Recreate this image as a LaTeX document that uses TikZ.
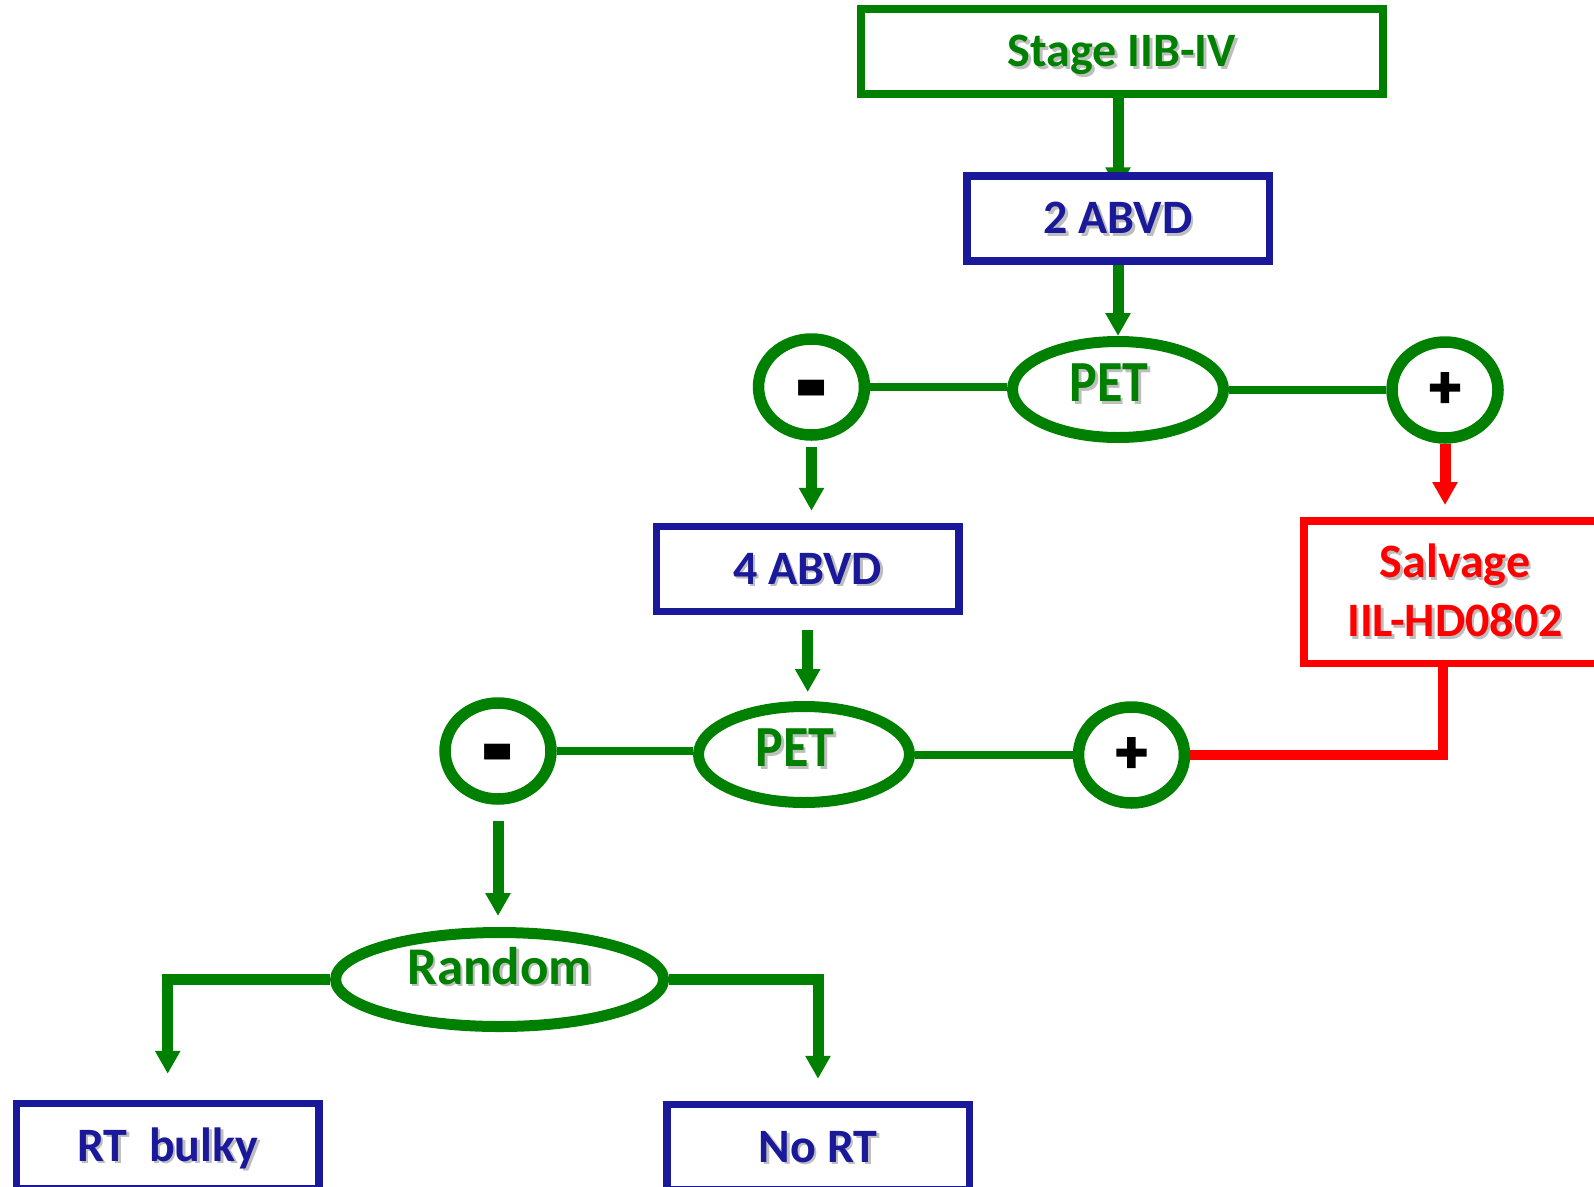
\documentclass[tikz,border=0pt]{standalone}
\usepackage{fontspec}
\usepackage{graphicx}
\setmainfont{Carlito}
\newfontfamily\signfont{Carlito}[BoldFeatures={FakeBold=4}]
\usetikzlibrary{shapes.geometric,arrows.meta,calc}

\definecolor{fcgreen}{RGB}{0,128,0}
\definecolor{fcblue}{RGB}{25,25,153}
\definecolor{fcred}{RGB}{255,0,0}
\definecolor{fcshadow}{RGB}{190,190,190}

\pgfdeclarelayer{paper}
\pgfdeclarelayer{wires}
\pgfsetlayers{paper,wires,main}

% text with a soft grey drop shadow
\newcommand\shd[1]{\leavevmode\rlap{\kern2.5pt\raisebox{-2.5pt}{\color{fcshadow}#1}}#1}
% heavy minus bar, centred on the baseline of the node
\newcommand\minussign{{\fontsize{105}{105}\selectfont\bfseries
  \smash{\raisebox{-44.5pt}{\scalebox{1}[1.45]{-}}}}}
\newcommand\plussign{{\signfont\fontsize{60}{60}\selectfont\bfseries +}}
\newcommand\tallpet{\scalebox{1}[1.12]{\shd{PET}}}

\tikzset{
  stepbox/.style={rectangle, draw, fill=white, line width=7.5pt, inner sep=0pt,
    minimum width=302.5pt, minimum height=85pt,
    font=\fontsize{48}{59}\selectfont\bfseries, text height=30.5pt, text depth=0pt},
  greenbox/.style={stepbox, draw=fcgreen, text=fcgreen, line width=8pt},
  bluebox/.style={stepbox, draw=fcblue, text=fcblue},
  redbox/.style={rectangle, draw=fcred, text=fcred, fill=white, line width=7.5pt, inner sep=0pt,
    minimum width=302pt, minimum height=142.5pt, align=center,
    font=\fontsize{48}{59}\selectfont\bfseries},
  bigoval/.style={ellipse, draw=fcgreen, text=fcgreen, fill=white, line width=11pt, inner sep=0pt,
    minimum width=211pt, minimum height=96pt,
    font=\fontsize{52}{60}\selectfont\bfseries, text height=24pt, text depth=0pt},
  randoval/.style={bigoval, minimum width=328pt, minimum height=94pt,
    font=\fontsize{53}{62}\selectfont\bfseries, text height=9.5pt},
  signring/.style={ellipse, draw=fcgreen, fill=white, line width=11.5pt, inner sep=0pt,
    minimum width=106pt, minimum height=96pt},
  garrow/.style={draw=fcgreen, line width=11pt, line join=miter,
    -{Triangle[length=23pt,width=24pt]}},
  rarrow/.style={draw=fcred, line width=11pt, -{Triangle[length=23pt,width=24pt]}},
  gline/.style={draw=fcgreen, line width=8pt},
  rline/.style={draw=fcred, line width=10pt, line join=miter},
}

\begin{document}
\begin{tikzpicture}[x=1pt,y=-1pt]
\useasboundingbox (0,0) rectangle (1594,1186);
\begin{pgfonlayer}{paper}
  \fill[white] (0,0) rectangle (1594,1186);
\end{pgfonlayer}
\clip (0,0) rectangle (1594,1186);

% boxes and decision ovals
\node[greenbox, minimum width=522pt] (stage) at (1122,51.5) {\shd{Stage IIB-IV}};
\node[bluebox] (abvd2) at (1118,218.5) {\shd{2 ABVD}};
\node[bigoval] (pet1) at (1118,389.5) {\tallpet\hspace*{18pt}};
\node[signring] (neg1) at (811.5,387) {\minussign};
\node[signring] (pos1) at (1445,390) {\plussign};
\node[bluebox] (abvd4) at (807.7,569) {\shd{4 ABVD}};
\node[redbox] (salv) at (1455,592) {\shd{Salvage}\\\shd{IIL-HD0802}};
\node[bigoval] (pet2) at (804,754.5) {\tallpet\hspace*{18pt}};
\node[signring] (neg2) at (498,751) {\minussign};
\node[signring] (pos2) at (1131.5,755) {\plussign};
\node[randoval] (rand) at (499.6,979.5) {\shd{Random}};
\node[bluebox] (rtb) at (167.7,1146) {\shd{RT\ \ bulky}};
\node[bluebox] (nort) at (818,1147) {\shd{No RT}};

% connectors (anchors sit on the outer edge of each outline)
\begin{pgfonlayer}{wires}
  \draw[garrow, shorten >=-18pt] (abvd2.north |- stage.south) -- (abvd2.north);
  \draw[garrow] (abvd2.south) -- (pet1.north);
  \draw[gline] (neg1.east) -- (neg1.east -| pet1.west);
  \draw[gline] (pet1.east) -- (pet1.east -| pos1.west);
  \draw[garrow, shorten <=6pt, shorten >=12pt] (neg1.south) -- (neg1.south |- abvd4.north);
  \draw[rarrow, shorten >=12pt] (pos1.south) -- (pos1.south |- salv.north);
  \draw[garrow, shorten <=15pt, shorten >=9pt] (abvd4.south) -- (abvd4.south |- pet2.north);
  \draw[gline] (neg2.east) -- (neg2.east -| pet2.west);
  \draw[gline] (pet2.east) -- (pet2.east -| pos2.west);
  \draw[rline] (pos2.east) -| ([xshift=-12pt]salv.south);
  \draw[garrow, shorten <=16pt, shorten >=11pt] (neg2.south) -- (neg2.south |- rand.north);
  \draw[garrow, shorten >=26pt] (rand.west) -| (rtb.north);
  \draw[garrow, shorten >=22pt] (rand.east) -| (nort.north);
\end{pgfonlayer}
\end{tikzpicture}
\end{document}
